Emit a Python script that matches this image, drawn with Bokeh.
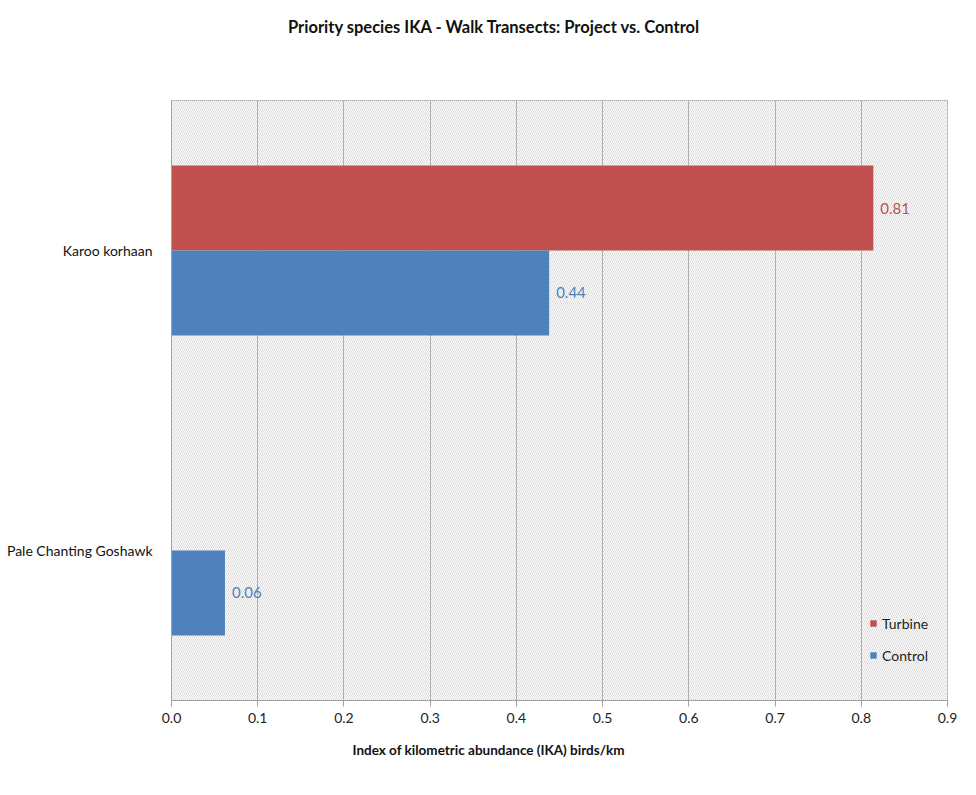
from bokeh.plotting import figure
from bokeh.layouts import column
from bokeh.models import (ColumnDataSource, FactorRange, Range1d, BoxAnnotation, Title, Div,
                          Legend, LegendItem, SingleIntervalTicker, PrintfTickFormatter)
from bokeh.core.properties import value
from bokeh.transform import dodge
from bokeh.embed import file_html
from bokeh.resources import INLINE

# ---- data ----
species = ["Karoo korhaan", "Pale Chanting Goshawk"]
turbine = [0.814, 0.0]
control = [0.438, 0.062]
series_names = ["Turbine", "Control"]
series_colors = ["#C0504D", "#4F81BD"]
title_text = "Priority species IKA - Walk Transects: Project vs. Control"
x_label = "Index of kilometric abundance  (IKA) birds/km"

FONT = "Lato"
TITLE_H = 50   # the Div renders about 10px taller than this

header = Div(text=title_text, width=976, height=TITLE_H,
             styles={"font-family": FONT, "font-weight": "bold", "font-size": "16.5px",
                     "color": "#111111", "padding-left": "283px", "padding-top": "12px",
                     "line-height": "20px", "box-sizing": "border-box", "white-space": "nowrap"})

factors = list(reversed(species))
p = figure(width=976, height=735, y_range=FactorRange(*factors, range_padding=0),
           x_range=Range1d(0, 0.9), output_backend="svg", toolbar_location=None,
           min_border_left=171, min_border_right=29, min_border_top=40,
           min_border_bottom=95)
p.title = None

# hatched plot background
bg = BoxAnnotation(fill_color="white", fill_alpha=1.0, hatch_pattern="\\", hatch_color="#dadada",
                   hatch_scale=4, hatch_weight=1, line_color=None, level="image")
p.add_layout(bg)

p.outline_line_color = "#a0a0a0"
p.xgrid.grid_line_color = "#b0b0b0"
p.ygrid.grid_line_color = None

src_t = ColumnDataSource(dict(y=species, v=turbine))
src_c = ColumnDataSource(dict(y=species, v=control))

bh = 0.283
rt = p.hbar(y=dodge("y", bh / 2, range=p.y_range), right="v", left=0, height=bh, source=src_t,
            fill_color=series_colors[0], line_color=None)
rc = p.hbar(y=dodge("y", -bh / 2, range=p.y_range), right="v", left=0, height=bh, source=src_c,
            fill_color=series_colors[1], line_color=None)

# data labels (only non-zero)
lt = ColumnDataSource(dict(y=[s for s, v in zip(species, turbine) if v > 0],
                           v=[v for v in turbine if v > 0],
                           lab=["%.2f" % v for v in turbine if v > 0]))
lc = ColumnDataSource(dict(y=[s for s, v in zip(species, control) if v > 0],
                           v=[v for v in control if v > 0],
                           lab=["%.2f" % v for v in control if v > 0]))
p.text(x="v", y=dodge("y", bh / 2, range=p.y_range), text="lab", source=lt, x_offset=7,
       text_baseline="middle", text_color=series_colors[0], text_font_size="15px",
       text_font=value(FONT))
p.text(x="v", y=dodge("y", -bh / 2, range=p.y_range), text="lab", source=lc, x_offset=7,
       text_baseline="middle", text_color=series_colors[1], text_font_size="15px",
       text_font=value(FONT))

# axes
p.xaxis.ticker = SingleIntervalTicker(interval=0.1, num_minor_ticks=0)
p.xaxis.formatter = PrintfTickFormatter(format="%.1f")
p.xaxis.axis_line_color = "#a0a0a0"
p.xaxis.major_tick_line_color = "#a0a0a0"
p.xaxis.major_tick_out = 6
p.xaxis.major_tick_in = 0
p.xaxis.minor_tick_line_color = None
p.xaxis.major_label_text_font = FONT
p.xaxis.major_label_text_font_size = "14px"
p.xaxis.major_label_text_color = "#222222"
p.xaxis.major_label_standoff = 6

p.yaxis.axis_line_color = "#a0a0a0"
p.yaxis.major_tick_line_color = None
p.yaxis.minor_tick_line_color = None
p.yaxis.major_label_text_font = FONT
p.yaxis.major_label_text_font_size = "14px"
p.yaxis.major_label_text_color = "#111111"
p.yaxis.major_label_standoff = 13

# x-axis title (placed below the axis, shifted left as in the reference)
xt = Title(text=x_label, align="left", offset=181, text_font=FONT, text_font_style="bold",
           text_font_size="13.5px", text_color="#111111", standoff=28)
p.add_layout(xt, "below")

# legend
legend = Legend(items=[LegendItem(label=series_names[0], renderers=[rt]),
                       LegendItem(label=series_names[1], renderers=[rc])],
                location=(698, 36), orientation="vertical")
legend.glyph_width = 8
legend.glyph_height = 8
legend.label_text_font = FONT
legend.label_text_font_size = "14px"
legend.label_text_color = "#222222"
legend.label_standoff = 5
legend.spacing = 14
legend.label_height = 18
legend.padding = 4
legend.background_fill_alpha = 0
legend.border_line_color = None
p.add_layout(legend)

layout = column(header, p, spacing=0)
open("out.html", "w").write(file_html(layout, INLINE))
